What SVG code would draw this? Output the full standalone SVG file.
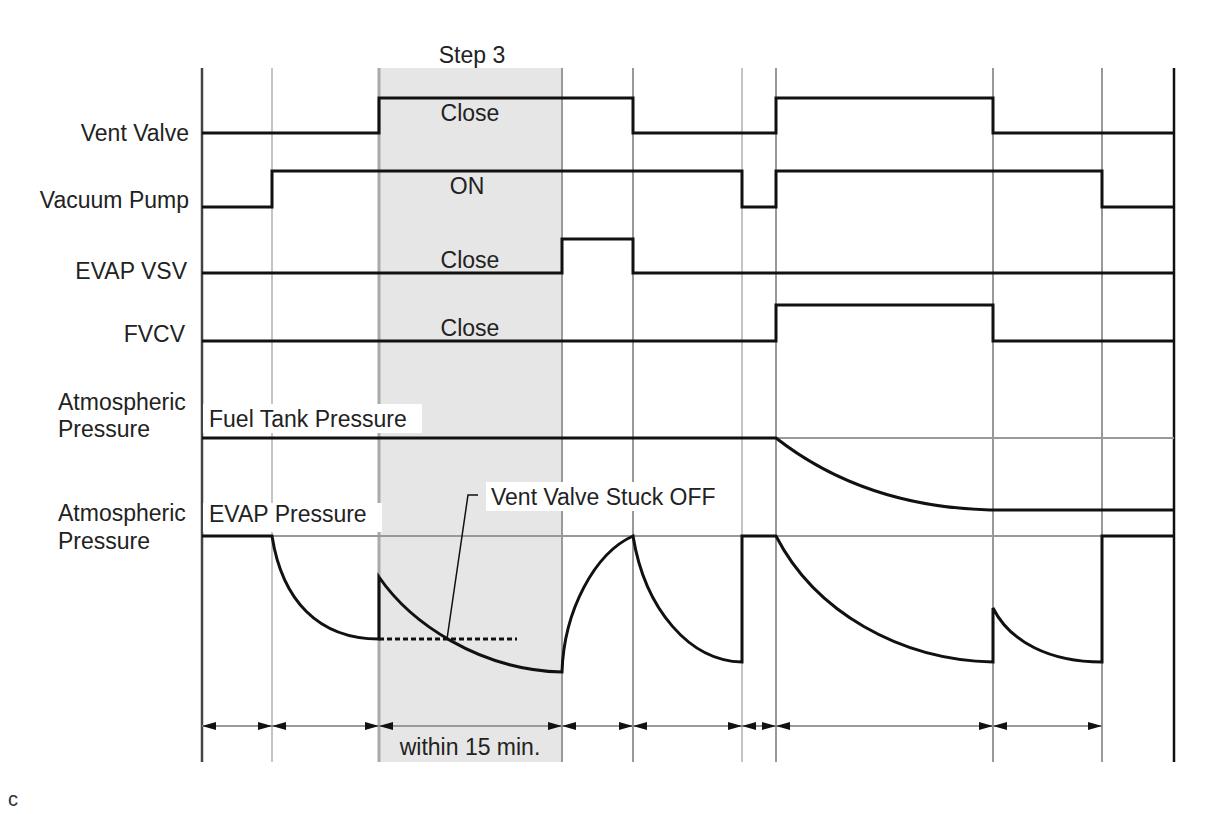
<svg xmlns="http://www.w3.org/2000/svg" width="1210" height="814" viewBox="0 0 1210 814">
<defs>
<style>
text{font-family:"Liberation Sans",Arial,sans-serif;font-size:23px;fill:#222}
.grid{stroke:#999;stroke-width:2;fill:none}
.glight{stroke:#c4c4c4;stroke-width:2;fill:none}
.ref{stroke:#999;stroke-width:2;fill:none}
.sig{stroke:#111;stroke-width:3;fill:none;stroke-linejoin:miter}
.dim{stroke:#999;stroke-width:2;fill:none;marker-start:url(#ah);marker-end:url(#ah)}
.box{fill:#fff}
</style>
<marker id="ah" viewBox="0 0 14 8" refX="14" refY="4" markerWidth="14" markerHeight="8" markerUnits="userSpaceOnUse" orient="auto-start-reverse">
<path d="M0,0 L14,4 L0,8 Z" fill="#111"/>
</marker>
</defs>
<rect x="0" y="0" width="1210" height="814" fill="#fff"/>
<g id="step3-band">
<rect x="379" y="68" width="183" height="694" fill="#e6e6e6"/>
</g>
<g id="grid">
<line x1="202" y1="68" x2="202" y2="762" stroke="#444" stroke-width="2.5"/>
<line class="glight" x1="272" y1="68" x2="272" y2="762"/>
<line x1="379" y1="68" x2="379" y2="762" stroke="#aaa" stroke-width="3"/>
<line class="grid" x1="562" y1="68" x2="562" y2="762" stroke="#888"/>
<line class="grid" x1="633" y1="68" x2="633" y2="762"/>
<line class="glight" x1="742" y1="68" x2="742" y2="762"/>
<line class="grid" x1="776" y1="68" x2="776" y2="762"/>
<line class="grid" x1="993" y1="68" x2="993" y2="762"/>
<line class="grid" x1="1102" y1="68" x2="1102" y2="762"/>
<line x1="1174" y1="68" x2="1174" y2="762" stroke="#111" stroke-width="2.5"/>
<line class="ref" x1="202" y1="438" x2="1174" y2="438"/>
<line class="ref" x1="202" y1="536" x2="1174" y2="536"/>
</g>
<g id="label-boxes">
<rect class="box" x="203" y="404" width="219" height="29"/>
<rect class="box" x="203" y="503" width="179" height="29"/>
<rect class="box" x="486" y="482" width="237" height="29"/>
</g>
<g id="vent-valve">
<text x="189" y="141" text-anchor="end">Vent Valve</text>
<polyline class="sig" points="202,133 379,133 379,98 633,98 633,133 776,133 776,98 993,98 993,133 1174,133"/>
<text x="470" y="121" text-anchor="middle">Close</text>
</g>
<g id="vacuum-pump">
<text x="189" y="208" text-anchor="end">Vacuum Pump</text>
<polyline class="sig" points="202,207 272,207 272,171 742,171 742,207 776,207 776,171 1102,171 1102,207 1174,207"/>
<text x="467" y="194" text-anchor="middle">ON</text>
</g>
<g id="evap-vsv">
<text x="187" y="279" text-anchor="end">EVAP VSV</text>
<polyline class="sig" points="202,273 562,273 562,239 633,239 633,273 1174,273"/>
<text x="470" y="268" text-anchor="middle">Close</text>
</g>
<g id="fvcv">
<text x="185" y="342" text-anchor="end">FVCV</text>
<polyline class="sig" points="202,341 776,341 776,305 993,305 993,341 1174,341"/>
<text x="470" y="336" text-anchor="middle">Close</text>
</g>
<g id="fuel-tank-pressure">
<text x="58" y="410">Atmospheric</text>
<text x="58" y="437">Pressure</text>
<text x="209" y="427">Fuel Tank Pressure</text>
<path class="sig" d="M202,438 L776,438 C840,488 915,508 990,510 L1174,510"/>
</g>
<g id="evap-pressure">
<text x="58" y="521">Atmospheric</text>
<text x="58" y="549">Pressure</text>
<text x="209" y="522">EVAP Pressure</text>
<path class="sig" d="M202,536 L272,536 C282,600 318,639 379,639 L379,577 C410,622 478,670 562,672 C564,610 595,553 633,536 C645,610 690,661 742,662 L742,536 L776,536 C815,612 900,660 993,662 L993,608 C1010,642 1050,662 1102,662 L1102,536 L1174,536"/>
</g>
<g id="stuck-off">
<line x1="379" y1="639" x2="517" y2="639" stroke="#111" stroke-width="3" stroke-dasharray="5,3"/>
<polyline points="447,639 468,495 478,495" fill="none" stroke="#111" stroke-width="1.5"/>
<text x="491" y="505">Vent Valve Stuck OFF</text>
</g>
<g id="connectors">
<line class="dim" x1="202" y1="726" x2="272" y2="726"/>
<line class="dim" x1="272" y1="726" x2="379" y2="726"/>
<line class="dim" x1="379" y1="726" x2="562" y2="726"/>
<line class="dim" x1="562" y1="726" x2="633" y2="726"/>
<line class="dim" x1="633" y1="726" x2="742" y2="726"/>
<line class="dim" x1="742" y1="726" x2="776" y2="726"/>
<line class="dim" x1="776" y1="726" x2="993" y2="726"/>
<line class="dim" x1="993" y1="726" x2="1102" y2="726"/>
</g>
<g id="titles">
<text x="472" y="63" text-anchor="middle">Step 3</text>
<text x="470" y="755" text-anchor="middle">within 15 min.</text>
<text x="8" y="806" style="font-size:20px;fill:#333">c</text>
</g>
</svg>
